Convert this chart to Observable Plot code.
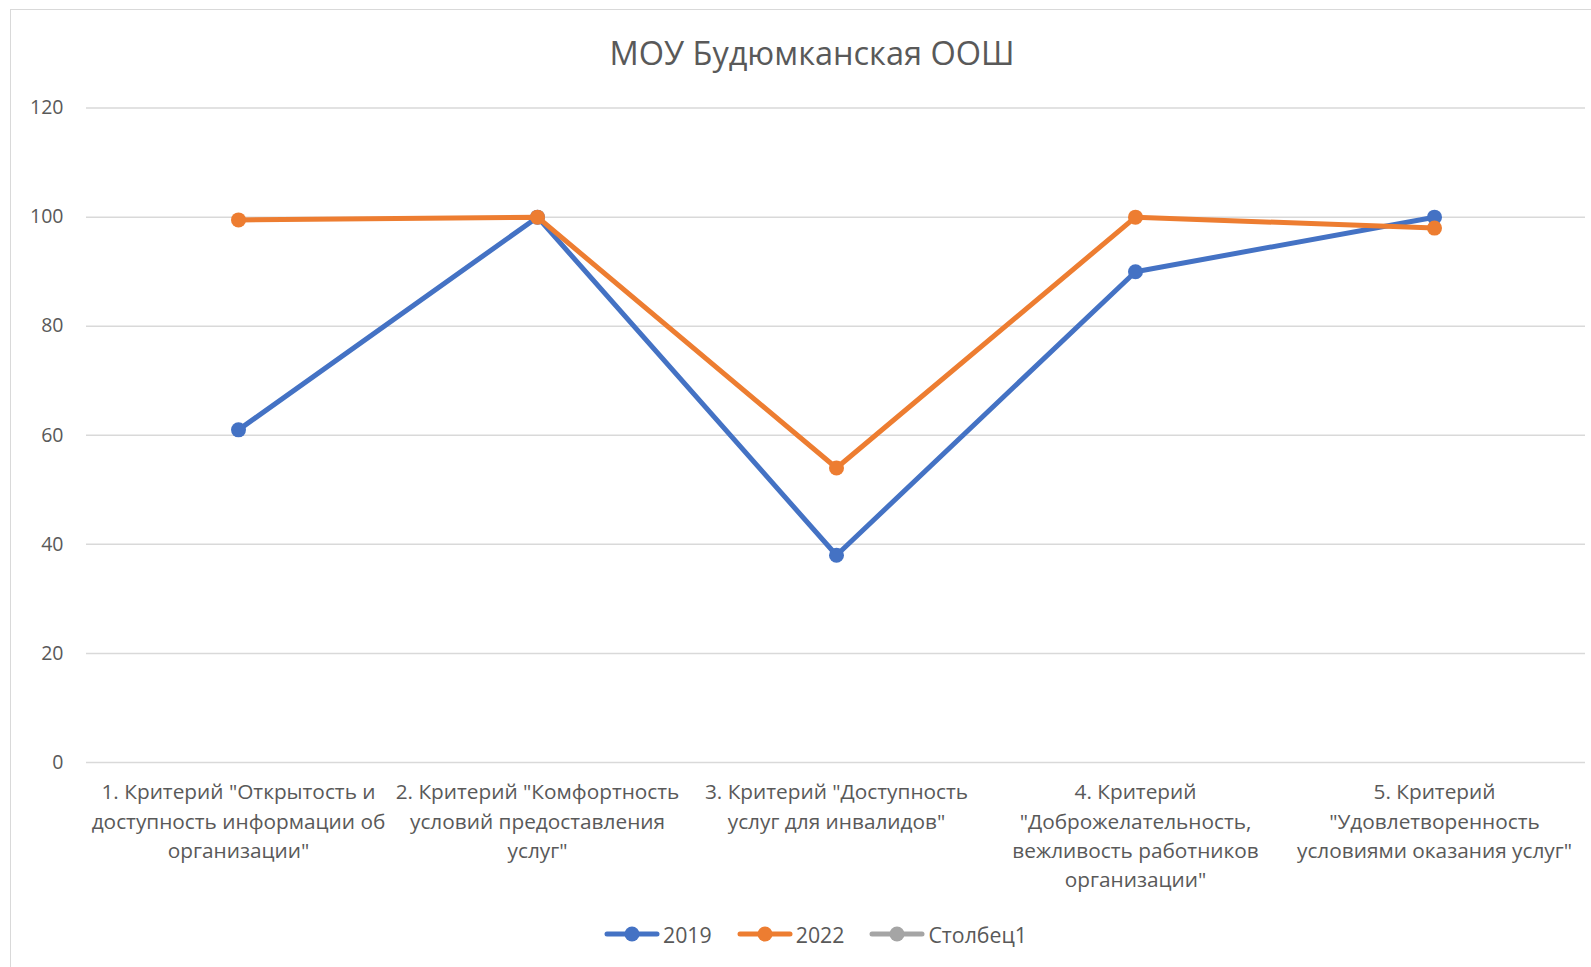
<!DOCTYPE html>
<html>
<head>
<meta charset="utf-8">
<script src="https://cdn.jsdelivr.net/npm/d3@7"></script>
<script src="https://cdn.jsdelivr.net/npm/@observablehq/plot@0.6"></script>
<style>
  html, body { margin: 0; padding: 0; background: #fff; }
  #wrap { position: relative; width: 1591px; height: 967px; overflow: hidden; font-family: "Open Sans", sans-serif; color: #595959; }
  #frame { position: absolute; left: 10px; top: 9px; width: 1700px; height: 1100px; border-left: 1.5px solid #d9d9d9; border-top: 1.5px solid #d9d9d9; }
  #title { position: absolute; left: 0; width: 1624px; top: 32px; text-align: center; font-size: 32.5px; line-height: 42px; }
  #chart { position: absolute; left: 0; top: 0; }
  #legend { position: absolute; left: 40px; width: 1551px; top: 920px; height: 28px; display: flex; justify-content: center; align-items: center; font-size: 21.3px; }
  .item { display: flex; align-items: center; margin: 0 12.5px; }
  .item svg { margin-right: 3px; }
</style>
</head>
<body>
<div id="wrap">
  <div id="frame"></div>
  <div id="title"></div>
  <div id="chart"></div>
  <div id="legend"></div>
</div>
<script>
const chartTitle = "МОУ Будюмканская ООШ";
const categories = [
  "1. Критерий \"Открытость и доступность информации об организации\"",
  "2. Критерий \"Комфортность условий предоставления услуг\"",
  "3. Критерий \"Доступность услуг для инвалидов\"",
  "4. Критерий \"Доброжелательность, вежливость работников организации\"",
  "5. Критерий \"Удовлетворенность условиями оказания услуг\""
];
const tickLabels = [
  "1. Критерий \"Открытость и\nдоступность информации об\nорганизации\"",
  "2. Критерий \"Комфортность\nусловий предоставления\nуслуг\"",
  "3. Критерий \"Доступность\nуслуг для инвалидов\"",
  "4. Критерий\n\"Доброжелательность,\nвежливость работников\nорганизации\"",
  "5. Критерий\n\"Удовлетворенность\nусловиями оказания услуг\""
];
const values2019 = [61, 100, 38, 90, 100];
const values2022 = [99.5, 100, 54, 100, 98];
const seriesNames = ["2019", "2022", "Столбец1"];
const seriesColors = ["#4472C4", "#ED7D31", "#A5A5A5"];
const yTicks = [0, 20, 40, 60, 80, 100, 120];

const rows = [];
categories.forEach((c, i) => rows.push({cat: c, value: values2019[i], series: seriesNames[0]}));
categories.forEach((c, i) => rows.push({cat: c, value: values2022[i], series: seriesNames[1]}));

document.getElementById("title").textContent = chartTitle;

const plot = Plot.plot({
  width: 1591,
  height: 967,
  marginLeft: 86,
  marginRight: 6,
  marginTop: 107.6,
  marginBottom: 205,
  style: {fontFamily: "'Open Sans', sans-serif", color: "#595959", background: "transparent"},
  x: {type: "point", domain: categories, padding: 0.5, axis: null},
  y: {domain: [0, 120], axis: null},
  color: {domain: seriesNames, range: seriesColors},
  marks: [
    Plot.gridY(yTicks, {stroke: "#d9d9d9", strokeOpacity: 1, strokeWidth: 1.5}),
    Plot.axisY(yTicks, {tickSize: 0, tickPadding: 23, fontSize: 19.5, fill: "#595959", label: null}),
    Plot.axisX({tickSize: 0, tickPadding: 16, fontSize: 20.8, lineHeight: 1.41, fill: "#595959", label: null,
      tickFormat: d => tickLabels[categories.indexOf(d)]}),
    Plot.line(rows.filter(r => r.series === "2019"), {x: "cat", y: "value", stroke: "series", strokeWidth: 5}),
    Plot.dot(rows.filter(r => r.series === "2019"), {x: "cat", y: "value", fill: "series", r: 7.5}),
    Plot.line(rows.filter(r => r.series === "2022"), {x: "cat", y: "value", stroke: "series", strokeWidth: 5}),
    Plot.dot(rows.filter(r => r.series === "2022"), {x: "cat", y: "value", fill: "series", r: 7.5})
  ]
});
document.getElementById("chart").appendChild(plot);

const legend = document.getElementById("legend");
seriesNames.forEach((name, i) => {
  const item = document.createElement("div");
  item.className = "item";
  item.innerHTML = `<svg width="56" height="16"><line x1="3" y1="8" x2="53" y2="8" stroke="${seriesColors[i]}" stroke-width="5" stroke-linecap="round"/><circle cx="28" cy="8" r="7.5" fill="${seriesColors[i]}"/></svg><span>${name}</span>`;
  legend.appendChild(item);
});
</script>
</body>
</html>
